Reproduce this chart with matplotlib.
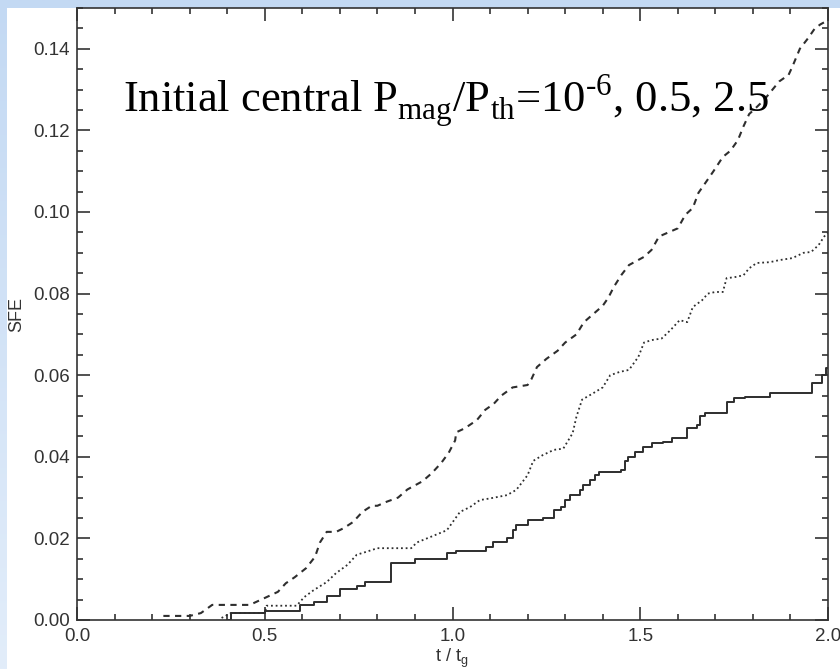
import numpy as np
import matplotlib
matplotlib.use("Agg")
import matplotlib.pyplot as plt
from matplotlib.patches import Rectangle
from matplotlib.ticker import MultipleLocator
from matplotlib.colors import LinearSegmentedColormap

# ---------------- data ----------------
solid_t = [0.40, 0.41, 0.50, 0.595, 0.63, 0.665, 0.70, 0.745, 0.767, 0.835, 0.90,
           0.985, 1.01, 1.09, 1.107, 1.145, 1.16, 1.17, 1.20, 1.24, 1.27, 1.29,
           1.30, 1.313, 1.34, 1.347, 1.365, 1.38, 1.39, 1.45, 1.46, 1.467, 1.487,
           1.508, 1.53, 1.56, 1.585, 1.625, 1.65, 1.66, 1.673, 1.73, 1.75, 1.78,
           1.845, 1.957, 1.985, 1.995, 2.0]
solid_sfe = [0.0, 0.0017, 0.0022, 0.0037, 0.0044, 0.0060, 0.0075, 0.0083, 0.0093,
             0.0140, 0.0150, 0.0164, 0.0170, 0.0180, 0.0190, 0.0200, 0.0220,
             0.0233, 0.0245, 0.0250, 0.0270, 0.0277, 0.0294, 0.0306, 0.0319,
             0.0330, 0.0343, 0.0355, 0.0363, 0.0367, 0.0390, 0.0400, 0.0412,
             0.0424, 0.0434, 0.0437, 0.0446, 0.0470, 0.0478, 0.0500, 0.0507,
             0.0534, 0.0544, 0.0547, 0.0556, 0.0580, 0.0600, 0.0617, 0.0617]

dotted_t = [0.385, 0.41, 0.50, 0.505, 0.585, 0.605, 0.63, 0.665, 0.69, 0.72, 0.745,
            0.77, 0.80, 0.89, 0.905, 0.94, 0.985, 1.02, 1.047, 1.073, 1.10, 1.145,
            1.17, 1.20, 1.215, 1.24, 1.27, 1.295, 1.32, 1.33, 1.345, 1.375, 1.40,
            1.42, 1.445, 1.47, 1.495, 1.51, 1.53, 1.557, 1.58, 1.605, 1.625, 1.64,
            1.665, 1.68, 1.70, 1.72, 1.73, 1.75, 1.775, 1.79, 1.81, 1.845, 1.87,
            1.905, 1.935, 1.955, 1.975, 1.99, 2.0]
dotted_sfe = [0.0005, 0.0017, 0.0017, 0.0035, 0.0035, 0.0056, 0.0073, 0.0093, 0.0115,
              0.0135, 0.0160, 0.0167, 0.0176, 0.0176, 0.0190, 0.0203, 0.0220, 0.0265,
              0.0277, 0.0294, 0.0298, 0.0306, 0.0319, 0.0355, 0.0390, 0.0404, 0.0417,
              0.0420, 0.0458, 0.0498, 0.0540, 0.0556, 0.0570, 0.0600, 0.0608, 0.0613,
              0.0645, 0.0680, 0.0686, 0.0690, 0.0710, 0.0735, 0.0730, 0.0767, 0.0784,
              0.0800, 0.0804, 0.0804, 0.0838, 0.0840, 0.0845, 0.0862, 0.0875, 0.0877,
              0.0882, 0.0887, 0.0900, 0.0902, 0.0919, 0.0940, 0.0950]

dashed_t = [0.23, 0.30, 0.33, 0.36, 0.46, 0.50, 0.535, 0.556, 0.58, 0.61, 0.634, 0.647,
            0.665, 0.69, 0.71, 0.735, 0.76, 0.785, 0.80, 0.825, 0.855, 0.88, 0.92,
            0.945, 0.97, 0.99, 1.007, 1.01, 1.033, 1.065, 1.087, 1.11, 1.13, 1.16,
            1.20, 1.21, 1.225, 1.25, 1.28, 1.30, 1.33, 1.35, 1.375, 1.40, 1.415,
            1.43, 1.45, 1.47, 1.51, 1.53, 1.55, 1.575, 1.60, 1.62, 1.64, 1.655,
            1.68, 1.695, 1.72, 1.74, 1.76, 1.775, 1.79, 1.81, 1.83, 1.87, 1.895,
            1.905, 1.925, 1.947, 1.965, 1.98, 2.0]
dashed_sfe = [0.0010, 0.0010, 0.0017, 0.0037, 0.0037, 0.0054, 0.0069, 0.0090, 0.0105,
              0.0127, 0.0155, 0.0190, 0.0216, 0.0216, 0.0225, 0.0240, 0.0265, 0.0280,
              0.0280, 0.0290, 0.0300, 0.0320, 0.0340, 0.0360, 0.0385, 0.0410, 0.0440,
              0.0460, 0.0470, 0.0490, 0.0515, 0.0530, 0.0550, 0.0570, 0.0576, 0.0590,
              0.0620, 0.0640, 0.0660, 0.0680, 0.0700, 0.0730, 0.0750, 0.0770, 0.0790,
              0.0817, 0.0846, 0.0870, 0.0890, 0.0907, 0.0940, 0.0950, 0.0960, 0.0993,
              0.1010, 0.1047, 0.1080, 0.1100, 0.1135, 0.1150, 0.1176, 0.1210, 0.1240,
              0.1257, 0.1275, 0.1320, 0.1336, 0.1356, 0.1400, 0.1426, 0.1450, 0.1460,
              0.1470]

x_ticks = [0.0, 0.5, 1.0, 1.5, 2.0]
x_ticklabels = ["0.0", "0.5", "1.0", "1.5", "2.0"]
y_ticks = [0.00, 0.02, 0.04, 0.06, 0.08, 0.10, 0.12, 0.14]
y_ticklabels = ["0.00", "0.02", "0.04", "0.06", "0.08", "0.10", "0.12", "0.14"]

title_text = "Initial central P$_\\mathregular{mag}$/P$_\\mathregular{th}$=10$^\\mathregular{\u2010 6}$, 0.5, 2.5"
x_label = "t / t$_\\mathregular{g}$"
y_label = "SFE"

# ---------------- figure ----------------
plt.rcParams["mathtext.fontset"] = "custom"
plt.rcParams["mathtext.rm"] = "Liberation Serif"

W, H = 840, 669
fig = plt.figure(figsize=(W / 100, H / 100), dpi=100)
fig.patch.set_facecolor("#c5dbf4")

# background gradient + white panel
bg = fig.add_axes([0, 0, 1, 1], zorder=-10)
grad = np.linspace(0, 1, 256).reshape(-1, 1)
cmap = LinearSegmentedColormap.from_list("bgb", ["#c3d9f3", "#e2edfa"])
bg.imshow(grad, aspect="auto", cmap=cmap, extent=[0, 1, 0, 1], origin="upper")
bg.add_patch(Rectangle((7 / W, 0), 1 - 7 / W, 1 - 8 / H, facecolor="white",
                       edgecolor="none", transform=bg.transAxes))
bg.set_xlim(0, 1)
bg.set_ylim(0, 1)
bg.axis("off")

ax = fig.add_axes([77 / W, 1 - 620 / H, (828 - 77) / W, (620 - 8) / H])
ax.set_facecolor("none")

col = "#2e2e2e"
ax.plot(solid_t, solid_sfe, drawstyle="steps-post", color=col, lw=1.4)
ax.plot(dotted_t, dotted_sfe, color=col, lw=1.3, linestyle=(0, (1, 1.6)))
ax.plot(dashed_t, dashed_sfe, color=col, lw=1.5, linestyle=(0, (3, 2.6)))

ax.set_xlim(0, 2.0)
ax.set_ylim(0, 0.15)
ax.set_xticks(x_ticks)
ax.set_xticklabels(x_ticklabels)
ax.set_yticks(y_ticks)
ax.set_yticklabels(y_ticklabels)
ax.xaxis.set_minor_locator(MultipleLocator(0.1))
ax.yaxis.set_minor_locator(MultipleLocator(0.005))

lab_font = "Liberation Sans"
ax.tick_params(which="both", direction="in", top=True, right=True, color="#333333",
               width=1.2, labelsize=13.5, labelcolor="#333333")
ax.tick_params(which="major", length=9.5)
ax.tick_params(which="minor", length=4.5)
ax.tick_params(axis="x", which="major", pad=6)
ax.tick_params(axis="y", which="major", pad=5)
for lbl in ax.get_xticklabels() + ax.get_yticklabels():
    lbl.set_family(lab_font)
for s in ax.spines.values():
    s.set_color("#333333")
    s.set_linewidth(1.2)

fig.text(452 / W, 1 - 662 / H, x_label, family=lab_font, fontsize=13,
         color="#333333", ha="center", va="baseline")
ax.set_ylabel(y_label, family=lab_font, fontsize=13, color="#333333", labelpad=6)

ax.text((123 - 77) / (828 - 77), (620 - 113) / (620 - 8), title_text,
        transform=ax.transAxes, family="Liberation Serif", fontsize=32,
        ha="left", va="baseline", color="black")

fig.savefig("out.png", dpi=100, facecolor=fig.get_facecolor())
